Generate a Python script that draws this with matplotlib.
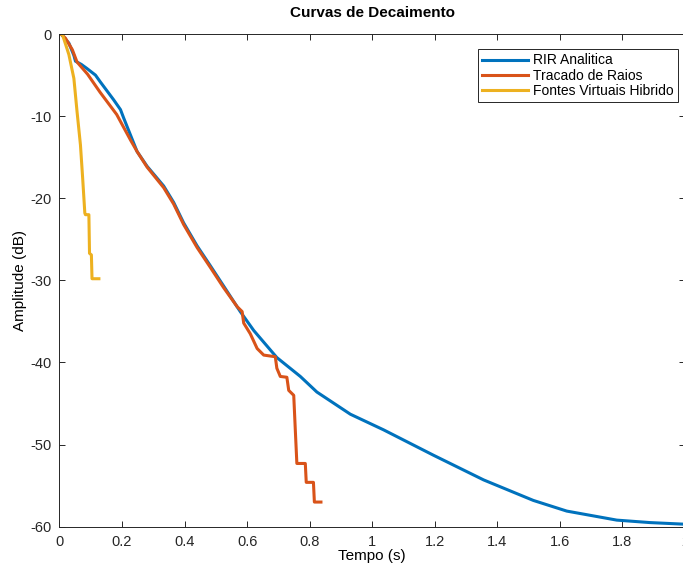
import matplotlib.pyplot as plt

plt.rcParams['font.family'] = ['Liberation Sans', 'DejaVu Sans']
plt.rcParams['axes.unicode_minus'] = False

# RIR Analitica
t_rir = [0, 0.005, 0.03, 0.046, 0.051, 0.07, 0.088, 0.115, 0.13, 0.173, 0.195, 0.205,
         0.227, 0.248, 0.28, 0.333, 0.365, 0.397, 0.44, 0.482, 0.525, 0.578, 0.621,
         0.695, 0.77, 0.823, 0.93, 1.036, 1.196, 1.356, 1.515, 1.622, 1.782, 1.888, 2.0]
db_rir = [0, 0, -1.1, -2.6, -3.3, -3.7, -4.2, -5.0, -5.8, -8.0, -9.2, -10.2,
          -12.3, -14.3, -16.1, -18.5, -20.5, -23.0, -25.8, -28.2, -30.7, -33.8, -36.1,
          -39.4, -41.7, -43.6, -46.3, -48.2, -51.3, -54.3, -56.8, -58.1, -59.2, -59.5, -59.7]

# Tracado de Raios
t_ray = [0, 0.005, 0.019, 0.041, 0.056, 0.09, 0.13, 0.183, 0.227, 0.248, 0.28, 0.333,
         0.365, 0.397, 0.44, 0.482, 0.525, 0.568, 0.584, 0.589, 0.61, 0.632, 0.653,
         0.69, 0.695, 0.706, 0.727, 0.733, 0.749, 0.754, 0.759, 0.786, 0.789, 0.812,
         0.815, 0.836]
db_ray = [0, 0, -0.5, -1.9, -3.4, -4.9, -7.1, -9.8, -12.9, -14.3, -16.2, -18.7,
          -20.7, -23.2, -26.0, -28.4, -30.9, -33.2, -33.8, -35.2, -36.5, -38.3, -39.1,
          -39.3, -40.7, -41.7, -41.8, -43.4, -44.0, -48.2, -52.3, -52.3, -54.6, -54.6,
          -57.0, -57.0]

# Fontes Virtuais Hibrido
t_hyb = [0, 0.009, 0.03, 0.046, 0.056, 0.067, 0.074, 0.081, 0.083, 0.094, 0.096,
         0.102, 0.104, 0.126]
db_hyb = [0, 0, -2.5, -5.4, -9.4, -13.5, -17.5, -21.8, -22.0, -22.0, -26.7,
          -26.9, -29.8, -29.8]

fig = plt.figure(figsize=(6.83, 5.63), dpi=100)
ax = fig.add_axes([0.0871, 0.0645, 0.9158, 0.875])

ax.plot(t_rir, db_rir, color='#0072BD', lw=2.2, label='RIR Analitica')
ax.plot(t_ray, db_ray, color='#D95319', lw=2.2, label='Tracado de Raios')
ax.plot(t_hyb, db_hyb, color='#EDB120', lw=2.2, label='Fontes Virtuais Hibrido')

ax.set_xlim(0, 2)
ax.set_ylim(-60, 0)
ax.set_xticks([0, 0.2, 0.4, 0.6, 0.8, 1, 1.2, 1.4, 1.6, 1.8, 2])
ax.set_xticklabels(['0', '0.2', '0.4', '0.6', '0.8', '1', '1.2', '1.4', '1.6', '1.8', '2'])
ax.set_yticks([-60, -50, -40, -30, -20, -10, 0])
ax.tick_params(direction='in', top=True, right=True, length=4, width=0.7,
               labelsize=10.5, colors='#262626', pad=6)
for s in ax.spines.values():
    s.set_color('#262626')
    s.set_linewidth(0.7)

ax.set_title('Curvas de Decaimento', fontsize=11, fontweight='bold', pad=12)
ax.set_xlabel('Tempo (s)', fontsize=11, labelpad=0)
ax.set_ylabel('Amplitude (dB)', fontsize=11, labelpad=2)

leg = ax.legend(loc='upper left', bbox_to_anchor=(0.669, 0.969), fontsize=10,
                fancybox=False, edgecolor='#262626', framealpha=1,
                handlelength=3.3, handletextpad=0.4, borderpad=0.3,
                labelspacing=0.1, borderaxespad=0)
leg.get_frame().set_linewidth(0.7)

plt.savefig('out.png', dpi=100)
